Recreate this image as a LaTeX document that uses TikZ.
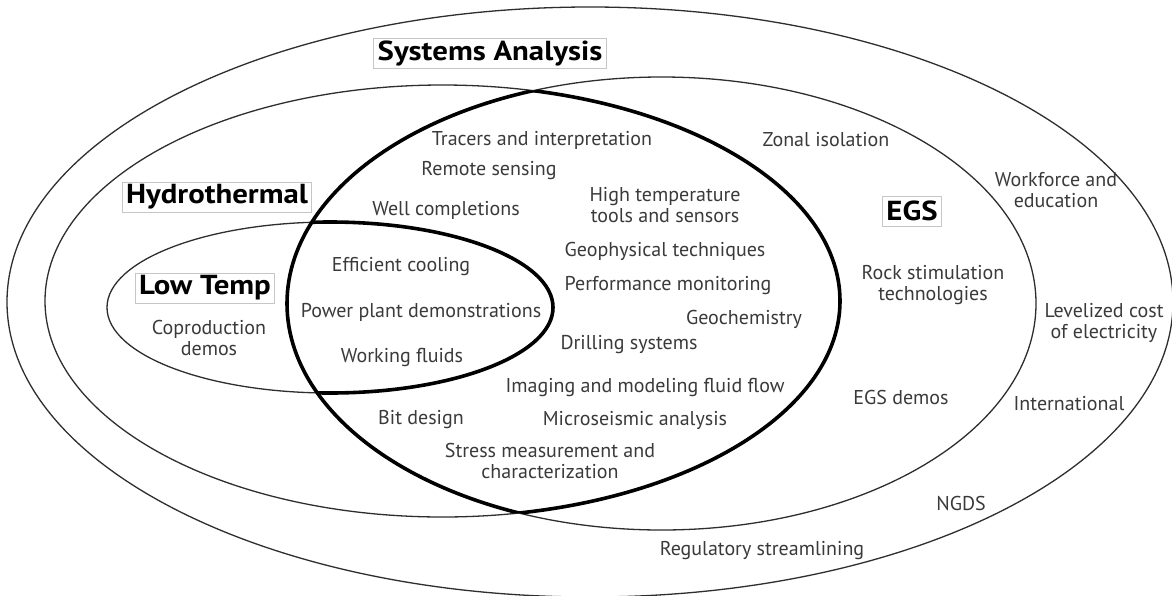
\documentclass[tikz,border=0pt]{standalone}
\usepackage{fontspec}
\setmainfont{PT Sans}
\newfontfamily\ttlfont[FakeStretch=1.12]{PT Sans Bold}
\definecolor{txt}{HTML}{3A3A3A}
\definecolor{ln}{HTML}{2E2E2E}
\begin{document}
\begin{tikzpicture}[x=1pt,y=-1pt,
  item/.style={text=txt, font=\fontsize{20}{21.5}\selectfont, align=center, inner sep=0pt},
  ttl/.style={draw=gray!45, line width=0.9pt, fill=white, font=\ttlfont\fontsize{27.5}{30}\selectfont, inner xsep=4pt, inner ysep=0pt, minimum height=30pt, text=black},
  ring/.style={draw=ln, line width=1.3pt},
  bold/.style={draw=black, line width=3.6pt}
]
\useasboundingbox (0,0) rectangle (1172,595);
\fill[white] (0,0) rectangle (1172,595);
% ellipses
\def\outerE{(590,302) ellipse [x radius=583pt, y radius=295pt]}
\def\hydroE{(442.5,301) ellipse [x radius=397.5pt, y radius=216pt]}
\def\egsE{(661.5,303.5) ellipse [x radius=374.5pt, y radius=226.5pt]}
\def\lowE{(330,307.5) ellipse [x radius=223pt, y radius=85.5pt]}
\path[ring] \outerE;
\path[ring] \hydroE;
\path[ring] \egsE;
\path[ring] \lowE;
\begin{scope}
  \clip \hydroE;
  \path[bold] \egsE;
\end{scope}
\begin{scope}
  \clip \egsE;
  \path[bold] \hydroE;
  \path[bold] \lowE;
\end{scope}
% titles
\node[ttl] (sa) at (490,53) {Systems Analysis};
\node[ttl] (hy) at (217,197) {Hydrothermal};
\node[ttl] (lt) at (205,288) {Low Temp};
\node[ttl] (egs) at (912,211) {EGS};
% items
\node[item] (t1) at (542,140) {Tracers and interpretation};
\node[item] (t2) at (489,171) {Remote sensing};
\node[item] (t3) at (446,210) {Well completions};
\node[item] (t4) at (665,205) {High temperature\\tools and sensors};
\node[item] (t5) at (665,251) {Geophysical techniques};
\node[item] (t6) at (668,286) {Performance monitoring};
\node[item] (t7) at (401,267) {Efficient cooling};
\node[item] (t8) at (421,312) {Power plant demonstrations};
\node[item] (t9) at (402,357) {Working fluids};
\node[item] (t10) at (209,338) {Coproduction\\demos};
\node[item] (t11) at (744,319) {Geochemistry};
\node[item] (t12) at (629,345) {Drilling systems};
\node[item] (t13) at (645,387) {Imaging and modeling fluid flow};
\node[item] (t14) at (635,420) {Microseismic analysis};
\node[item] (t15) at (421,420) {Bit design};
\node[item] (t16) at (550,461) {Stress measurement and\\characterization};
\node[item] (t17) at (826,140) {Zonal isolation};
\node[item] (t18) at (1056,190) {Workforce and\\education};
\node[item] (t19) at (933,285) {Rock stimulation\\technologies};
\node[item] (t20) at (1104,323) {Levelized cost\\of electricity};
\node[item] (t21) at (901,397) {EGS demos};
\node[item] (t22) at (1069,404) {International};
\node[item] (t23) at (961,503) {NGDS};
\node[item] (t24) at (762,551) {Regulatory streamlining};
\end{tikzpicture}
\end{document}
